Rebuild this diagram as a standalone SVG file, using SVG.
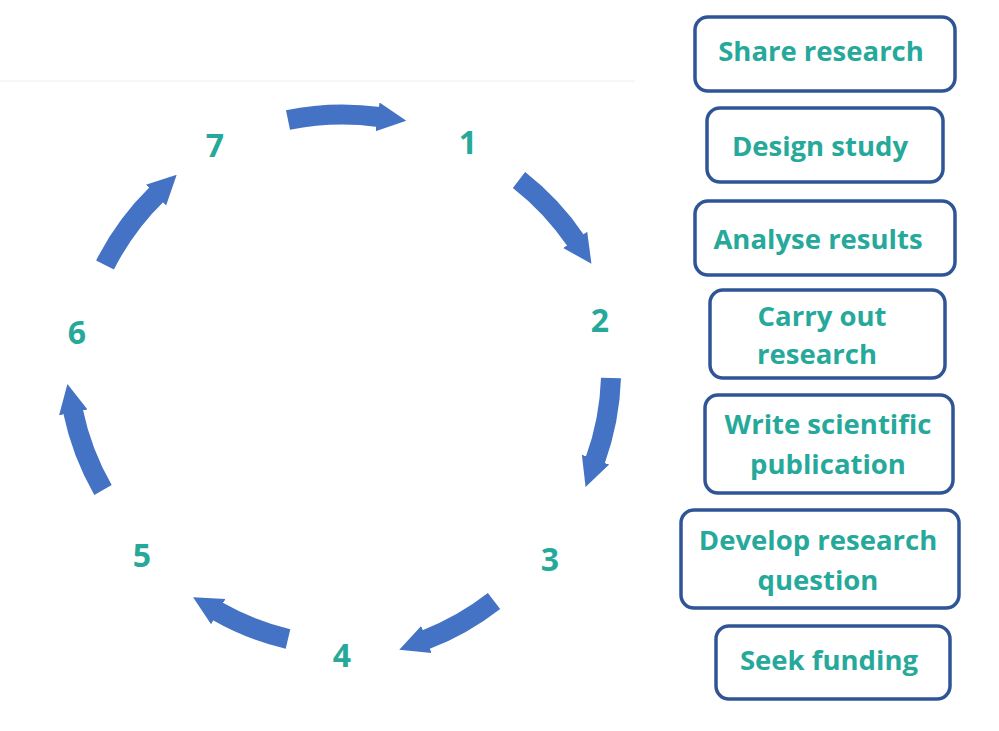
<svg xmlns="http://www.w3.org/2000/svg" width="999" height="731" viewBox="0 0 999 731">
<style>
.box{fill:#fff;stroke:#2F5597;stroke-width:3.5}
.t{font-family:"Open Sans","Liberation Sans",sans-serif;font-weight:bold;font-size:27.5px;fill:#26A99B;text-anchor:middle}
.n{font-family:"Open Sans","Liberation Sans",sans-serif;font-weight:bold;font-size:32px;fill:#26A99B;text-anchor:middle}
.arc{fill:none;stroke:#4472C4;stroke-width:20}
</style>
<defs>
<marker id="h" viewBox="0 0 10 10" refX="0.5" refY="5" markerWidth="1.45" markerHeight="2.7" orient="auto" markerUnits="strokeWidth">
<path d="M0,0 L10,5 L0,10 z" fill="#4472C4"/>
</marker>
</defs>
<rect width="999" height="731" fill="#fff"/>
<line x1="0" y1="81" x2="635" y2="81" stroke="#eee" stroke-width="1"/>
<g id="connectors">
<path class="arc" marker-end="url(#h)" d="M288,120 A268,268 0 0 1 379,117"/>
<path class="arc" marker-end="url(#h)" d="M519,180 A268,268 0 0 1 576,241"/>
<path class="arc" marker-end="url(#h)" d="M611,378 A268,268 0 0 1 595,461"/>
<path class="arc" marker-end="url(#h)" d="M494,601 A268,268 0 0 1 425,640"/>
<path class="arc" marker-end="url(#h)" d="M288,639 A268,268 0 0 1 217,611"/>
<path class="arc" marker-end="url(#h)" d="M103,490 A268,268 0 0 1 73,411"/>
<path class="arc" marker-end="url(#h)" d="M105,265 A268,268 0 0 1 157,194"/>
</g>
<g id="labels">
<text class="n" x="468" y="154">1</text>
<text class="n" x="600" y="332">2</text>
<text class="n" x="550" y="571">3</text>
<text class="n" x="342" y="667">4</text>
<text class="n" x="142" y="567">5</text>
<text class="n" x="77" y="344">6</text>
<text class="n" x="215" y="157">7</text>
</g>
<g id="n1"><rect class="box" x="695" y="17" width="260" height="74" rx="13"/><text class="t" x="821" y="61">Share research</text></g>
<g id="n2"><rect class="box" x="707" y="108" width="236" height="74" rx="13"/><text class="t" x="820" y="156">Design study</text></g>
<g id="n3"><rect class="box" x="695" y="201" width="260" height="74" rx="13"/><text class="t" x="818" y="249">Analyse results</text></g>
<g id="n4"><rect class="box" x="710" y="290" width="235" height="88" rx="13"/><text class="t" x="822" y="326">Carry out</text><text class="t" x="817" y="364">research</text></g>
<g id="n5"><rect class="box" x="705" y="395" width="248" height="98" rx="13"/><text class="t" x="828" y="434">Write scientific</text><text class="t" x="828" y="474">publication</text></g>
<g id="n6"><rect class="box" x="681" y="510" width="278" height="98" rx="13"/><text class="t" x="818" y="550">Develop research</text><text class="t" x="818" y="590">question</text></g>
<g id="n7"><rect class="box" x="716" y="626" width="234" height="73" rx="13"/><text class="t" x="829" y="670">Seek funding</text></g>
</svg>
